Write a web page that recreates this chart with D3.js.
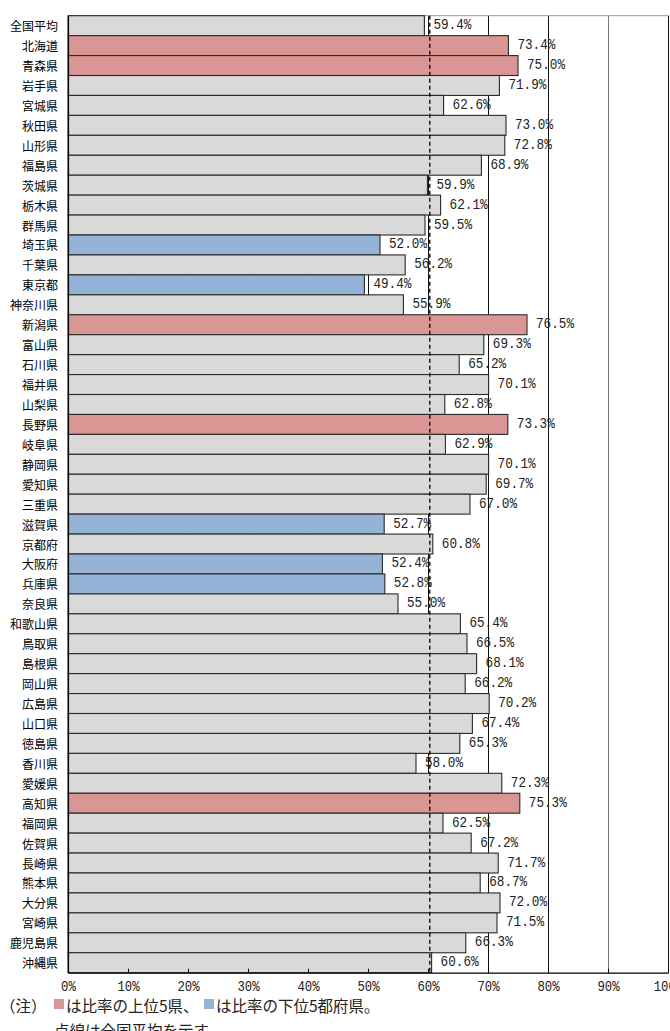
<!DOCTYPE html>
<html><head><meta charset="utf-8">
<script src="https://cdn.jsdelivr.net/npm/d3@7"></script>
<style>
html,body{margin:0;padding:0;background:#fff;overflow:hidden;}
svg{display:block;}
</style></head>
<body><svg id="chart" width="670" height="1031"></svg>
<script>
const categories = ["全国平均","北海道","青森県","岩手県","宮城県","秋田県","山形県","福島県","茨城県","栃木県","群馬県","埼玉県","千葉県","東京都","神奈川県","新潟県","富山県","石川県","福井県","山梨県","長野県","岐阜県","静岡県","愛知県","三重県","滋賀県","京都府","大阪府","兵庫県","奈良県","和歌山県","鳥取県","島根県","岡山県","広島県","山口県","徳島県","香川県","愛媛県","高知県","福岡県","佐賀県","長崎県","熊本県","大分県","宮崎県","鹿児島県","沖縄県"];
const values = [59.4,73.4,75.0,71.9,62.6,73.0,72.8,68.9,59.9,62.1,59.5,52.0,56.2,49.4,55.9,76.5,69.3,65.2,70.1,62.8,73.3,62.9,70.1,69.7,67.0,52.7,60.8,52.4,52.8,55.0,65.4,66.5,68.1,66.2,70.2,67.4,65.3,58.0,72.3,75.3,62.5,67.2,71.7,68.7,72.0,71.5,66.3,60.6];
const tickValues = [0,10,20,30,40,50,60,70,80,90,100];
const tickLabels = ["0%","10%","20%","30%","40%","50%","60%","70%","80%","90%","100%"];
const averageLine = 60.3;
const noteParts = ["（注）","は比率の上位5県、","は比率の下位5都府県。"];
const noteLine2 = "点線は全国平均を示す。";

(function(){
const svg = d3.select("#chart");
const pLeft = 68, pRight = 668, pTop = 15.7, pBottom = 972.7;
const x = d3.scaleLinear().domain([0,100]).range([pLeft,pRight]);
const y = d3.scaleBand().domain(categories).range([pTop,pBottom]).padding(0);

const COL_TOP = "#d99694", COL_BOT = "#95b3d7", COL_GRAY = "#d9d9d9";
const pref = values.slice(1).map((v,i)=>({v, name:categories[i+1]}));
const sorted = pref.slice().sort((a,b)=>b.v-a.v);
const topSet = new Set(sorted.slice(0,5).map(d=>d.name));
const botSet = new Set(sorted.slice(-5).map(d=>d.name));
const data = categories.map((c,i)=>({c, v:values[i]}));

// grid lines
svg.append("g").selectAll("line").data(tickValues.filter(t=>t>0)).join("line")
  .attr("x1",d=>x(d)+0.5).attr("x2",d=>x(d)+0.5)
  .attr("y1",pTop).attr("y2",pBottom)
  .attr("stroke",d=>d===90?"#777":"#111").attr("stroke-width",1);
// top border
svg.append("line").attr("x1",pLeft).attr("x2",pRight).attr("y1",pTop).attr("y2",pTop)
  .attr("stroke","#999").attr("stroke-width",1);

// bars
svg.append("g").selectAll("rect").data(data).join("rect")
  .attr("x",x(0)).attr("y",d=>y(d.c))
  .attr("width",d=>x(d.v)-x(0)).attr("height",y.bandwidth())
  .attr("fill",d=>topSet.has(d.c)?COL_TOP:botSet.has(d.c)?COL_BOT:COL_GRAY)
  .attr("stroke","#2a2a2a").attr("stroke-width",1.1);

// average dashed line
svg.append("line").attr("x1",x(averageLine)).attr("x2",x(averageLine))
  .attr("y1",pTop).attr("y2",pBottom)
  .attr("stroke","#000").attr("stroke-width",1.3).attr("stroke-dasharray","4,3");

// value labels
const fmt = d3.format(".1f");
svg.append("g").selectAll("text").data(data).join("text")
  .attr("x",d=>x(d.v)+9).attr("y",d=>y(d.c)+y.bandwidth()/2)
  .attr("dominant-baseline","central")
  .attr("font-family","'Liberation Mono','DejaVu Sans Mono',monospace")
  .attr("font-size",15).attr("fill","#222")
  .attr("textLength",d=>(fmt(d.v)+"%").length*7.6).attr("lengthAdjust","spacingAndGlyphs")
  .text(d=>fmt(d.v)+"%");

// category labels
svg.append("g").selectAll("text").data(categories).join("text")
  .attr("x",58).attr("y",d=>y(d)+y.bandwidth()/2)
  .attr("dominant-baseline","central").attr("text-anchor","end")
  .attr("font-family","'Noto Sans CJK JP',sans-serif").attr("font-size",12)
  .attr("fill","#000").text(d=>d);

// left axis line
svg.append("line").attr("x1",pLeft+0.5).attr("x2",pLeft+0.5).attr("y1",pTop).attr("y2",pBottom)
  .attr("stroke","#000").attr("stroke-width",1.2);

// bottom axis
const ax = svg.append("g").attr("transform",`translate(0,${pBottom})`)
  .call(d3.axisBottom(x).tickValues(tickValues).tickFormat((d,i)=>tickLabels[i]).tickSizeInner(-4).tickSizeOuter(0));
ax.select(".domain").attr("stroke","#000").attr("stroke-width",1.2);
ax.selectAll(".tick line").attr("stroke","#000");
ax.selectAll(".tick text").attr("y",13).attr("dy","0.35em")
  .attr("font-family","'Liberation Mono','DejaVu Sans Mono',monospace")
  .attr("font-size",14).attr("fill","#222")
  .attr("textLength",function(){return this.textContent.length*7.4;}).attr("lengthAdjust","spacingAndGlyphs");

// note
const note = svg.append("g").attr("font-family","'Noto Sans CJK JP',sans-serif").attr("font-size",15.5).attr("fill","#222");
note.append("text").attr("x",0).attr("y",1005).attr("dominant-baseline","central").text(noteParts[0]);
note.append("rect").attr("x",54).attr("y",999).attr("width",10).attr("height",10).attr("fill",COL_TOP);
note.append("text").attr("x",66).attr("y",1005).attr("dominant-baseline","central").text(noteParts[1]);
note.append("rect").attr("x",204).attr("y",999).attr("width",10).attr("height",10).attr("fill",COL_BOT);
note.append("text").attr("x",216).attr("y",1005).attr("dominant-baseline","central").text(noteParts[2]);
note.append("text").attr("x",54).attr("y",1030).attr("dominant-baseline","central").text(noteLine2);
})();
</script></body></html>
